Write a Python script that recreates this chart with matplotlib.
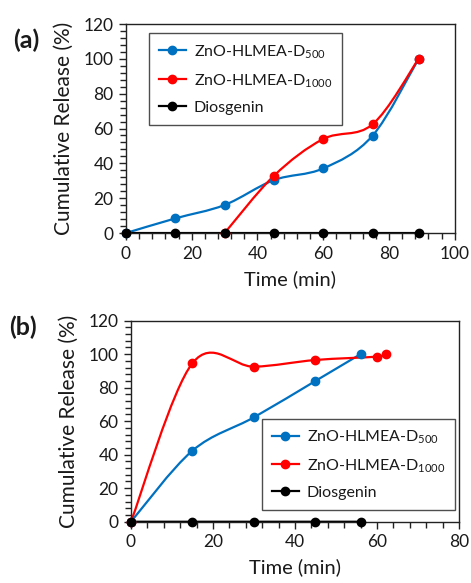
import matplotlib.pyplot as plt
from matplotlib.path import Path
from matplotlib.patches import PathPatch
from matplotlib.lines import Line2D
from matplotlib.ticker import MultipleLocator

plt.rcParams['font.family'] = ['Lato', 'DejaVu Sans']
plt.rcParams['mathtext.fontset'] = 'custom'
plt.rcParams['mathtext.rm'] = 'Lato'

# panel (a)
a_time_500 = [0, 15, 30, 45, 60, 75, 89]
a_rel_500 = [0, 8.4, 16.1, 30.4, 37.1, 55.9, 100]
a_time_1000 = [30, 45, 60, 75, 89]
a_rel_1000 = [0, 32.9, 54, 62.4, 100]
a_time_dios = [0, 15, 30, 45, 60, 75, 89]
a_rel_dios = [0, 0, 0, 0, 0, 0, 0]

# panel (b)
b_time_500 = [0, 15, 30, 45, 56]
b_rel_500 = [0, 42.4, 62.3, 84, 100]
b_time_1000 = [0, 15, 30, 45, 60, 62.2]
b_rel_1000 = [0, 94.6, 92.5, 96.5, 98.5, 100]
b_time_dios = [0, 15, 30, 45, 56]
b_rel_dios = [0, 0, 0, 0, 0]

labels = [r'ZnO-HLMEA-D$_\mathregular{500}$', r'ZnO-HLMEA-D$_\mathregular{1000}$', 'Diosgenin']
colors = ['#0070C0', '#FF0000', '#000000']
TXT = '#1a1a1a'


def smooth_path(x, y):
    # excel-style smoothed line: cubic bezier segments through the points
    pts = list(zip(x, y))
    n = len(pts)
    verts = [pts[0]]
    codes = [Path.MOVETO]
    for i in range(n - 1):
        p0 = pts[i - 1] if i > 0 else pts[i]
        p1 = pts[i]
        p2 = pts[i + 1]
        p3 = pts[i + 2] if i + 2 < n else pts[i + 1]
        c1 = (p1[0] + (p2[0] - p0[0]) / 6, p1[1] + (p2[1] - p0[1]) / 6)
        c2 = (p2[0] - (p3[0] - p1[0]) / 6, p2[1] - (p3[1] - p1[1]) / 6)
        verts += [c1, c2, p2]
        codes += [Path.CURVE4] * 3
    return Path(verts, codes)


def draw_panel(ax, series, xmax, legend_loc, anchor):
    for (x, y), c in zip(series, colors):
        ax.add_patch(PathPatch(smooth_path(x, y), fill=False, edgecolor=c, lw=1.6,
                               capstyle='round', zorder=2))
        ax.plot(x, y, 'o', color=c, ms=6, zorder=3, clip_on=False)
    ax.set_xlim(0, xmax)
    ax.set_ylim(0, 120)
    ax.xaxis.set_major_locator(MultipleLocator(20))
    ax.xaxis.set_minor_locator(MultipleLocator(4))
    ax.yaxis.set_major_locator(MultipleLocator(20))
    ax.yaxis.set_minor_locator(MultipleLocator(4))
    ax.tick_params(which='major', direction='out', length=5, width=1, labelsize=12.5,
                   colors='#222222', labelcolor=TXT, pad=4)
    ax.tick_params(which='minor', direction='out', length=4, width=1, colors='#222222')
    for s in ax.spines.values():
        s.set_color('#222222')
        s.set_linewidth(1)
    ax.set_xlabel('Time (min)', fontsize=14.5, color=TXT, labelpad=6)
    ax.set_ylabel('Cumulative Release (%)', fontsize=15, color=TXT, labelpad=7)
    handles = [Line2D([], [], color=c, marker='o', ms=6, lw=1.6) for c in colors]
    leg = ax.legend(handles, labels, loc=legend_loc, bbox_to_anchor=anchor,
                    fontsize=11.5, frameon=True, fancybox=False, edgecolor='#222222',
                    handlelength=1.7, borderpad=0.6, labelspacing=0.7,
                    handletextpad=0.5, borderaxespad=0)
    leg.get_frame().set_linewidth(1)
    for t in leg.get_texts():
        t.set_color(TXT)


fig = plt.figure(figsize=(4.71, 5.83), dpi=100)
ax1 = fig.add_axes([0.2675, 0.6003, 0.698, 0.3585])
ax2 = fig.add_axes([0.278, 0.1051, 0.6965, 0.345])

draw_panel(ax1, [(a_time_500, a_rel_500), (a_time_1000, a_rel_1000), (a_time_dios, a_rel_dios)],
           100, 'upper left', (0.07, 0.955))
draw_panel(ax2, [(b_time_500, b_rel_500), (b_time_1000, b_rel_1000), (b_time_dios, b_rel_dios)],
           80, 'lower left', (0.40, 0.06))

fig.text(0.028, 0.918, '(a)', fontsize=18, fontweight='bold', color=TXT)
fig.text(0.02, 0.425, '(b)', fontsize=18, fontweight='bold', color=TXT)

fig.savefig('out.png', dpi=100)
